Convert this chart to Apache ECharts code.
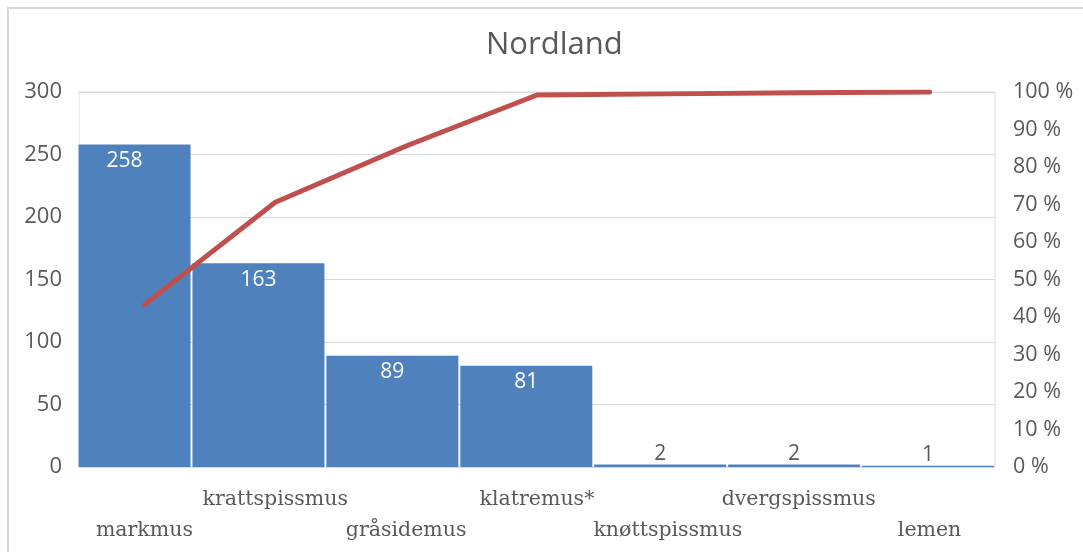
<!DOCTYPE html>
<html><head><meta charset="utf-8">
<script src="https://cdn.jsdelivr.net/npm/echarts@6/dist/echarts.min.js"></script>
<style>html,body{margin:0;padding:0;background:#fff}#c{width:1083px;height:552px}</style>
</head><body><div id="c"></div>
<script>
const categories = ['markmus','krattspissmus','gråsidemus','klatremus*','knøttspissmus','dvergspissmus','lemen'];
const counts = [258, 163, 89, 81, 2, 2, 1];
const cumulativePct = [43.3, 70.6, 85.6, 99.2, 99.5, 99.8, 100];
const leftTicks = [0, 300, 50];
const rightTicks = [0, 100, 10];

const chart = echarts.init(document.getElementById('c'));
const grey = '#595959';
const sans = 'Open Sans';
chart.setOption({
  animation: false,
  backgroundColor: '#fff',
  graphic: [
    {type:'rect', shape:{x:8,y:8,width:1200,height:700}, style:{fill:'none', stroke:'#D9D9D9', lineWidth:2}, silent:true, z:0},
    {type:'rect', shape:{x:30,y:88,width:48.5,height:382}, style:{fill:'#fff'}, silent:true, z:3}
  ],
  title: {text:'Nordland', left:481, top:25, textStyle:{fontFamily:sans, fontSize:31, fontWeight:'normal', color:grey}},
  grid: {left:79, right:88, top:92, bottom:85, show:true, borderColor:'#D9D9D9', borderWidth:1, backgroundColor:'transparent', containLabel:false},
  xAxis: [
    {type:'category', data:categories, boundaryGap:true,
     axisLine:{show:false}, axisTick:{show:false}, splitLine:{show:false},
     axisLabel:{interval:0, margin:17, lineHeight:31, fontFamily:'DejaVu Serif', fontSize:20.5, color:grey,
       formatter:(v, i) => (i % 2 === 0 ? '\n' + v : v)}},
    {type:'value', min:0.66, max:7.5, show:false}
  ],
  yAxis: [
    {type:'value', min:leftTicks[0], max:leftTicks[1], interval:leftTicks[2],
     axisLine:{show:false}, axisTick:{show:false},
     splitLine:{lineStyle:{color:'#D9D9D9', width:1}},
     axisLabel:{show:false}},
    {type:'value', min:rightTicks[0], max:rightTicks[1], interval:rightTicks[2],
     axisLine:{show:false}, axisTick:{show:false}, splitLine:{show:false},
     axisLabel:{margin:18, fontFamily:sans, fontSize:21.5, color:grey, formatter:'{value} %'}},
    {type:'value', position:'left', min:leftTicks[0], max:leftTicks[1], interval:leftTicks[2], z:10,
     axisLine:{show:false}, axisTick:{show:false}, splitLine:{show:false},
     axisLabel:{margin:17, fontFamily:sans, fontSize:22, color:grey}}
  ],
  series: [
    {type:'bar', xAxisIndex:1, yAxisIndex:0, barWidth:132,
     itemStyle:{color:'#4F81BD'},
     data: counts.map((v, i) => ({
       value:[i + 1, v],
       label: v > 20
         ? {show:true, position:'insideTop', distance:6, color:'#fff', fontFamily:sans, fontSize:21, formatter:String(v)}
         : {show:true, position:'top', distance:0, color:grey, fontFamily:sans, fontSize:21, formatter:String(v)}
     }))},
    {type:'line', xAxisIndex:0, yAxisIndex:1, data:cumulativePct, symbol:'none',
     lineStyle:{color:'#C0504D', width:5, cap:'round', join:'round'}, z:5}
  ]
});
</script></body></html>
